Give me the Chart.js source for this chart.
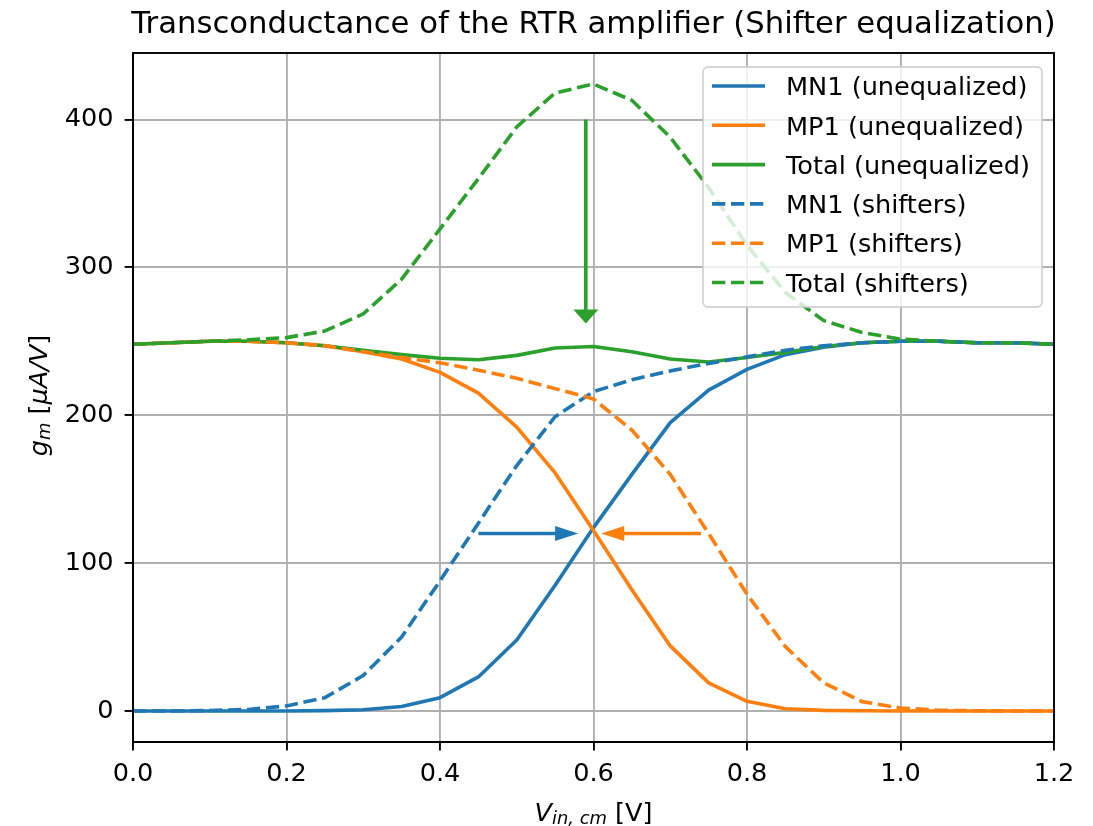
<!DOCTYPE html>
<html lang="en">
<head>
<meta charset="UTF-8">
<title>Transconductance of the RTR amplifier</title>
<script src="https://cdn.jsdelivr.net/npm/chart.js"></script>
<style>
  body { margin: 0; background: #fff; }
  #wrap { width: 1093px; height: 826px; }
</style>
</head>
<body>
<div id="wrap"><canvas id="gmChart" width="1093" height="826"></canvas></div>
<script>
// --- Data (gm in uA/V vs Vin,cm in V) ---
const vin = [0, 0.05, 0.1, 0.15, 0.2, 0.25, 0.3, 0.35, 0.4, 0.45, 0.5, 0.55, 0.6,
             0.65, 0.7, 0.75, 0.8, 0.85, 0.9, 0.95, 1.0, 1.05, 1.1, 1.15, 1.2];

const mn1Uneq  = [0, 0, 0, 0, 0, 0.2, 0.8, 3, 9, 23, 48, 85, 124, 160, 195, 217, 231, 241, 246, 249, 250, 250, 249, 249, 248];
const mp1Uneq  = [248, 249, 250, 250, 249, 247, 243, 238, 229, 215, 192, 161, 122, 82, 44, 19, 6.5, 1.5, 0.4, 0.1, 0, 0, 0, 0, 0];
const totUneq  = [248, 249, 250, 250, 249, 247, 244, 241, 238.5, 237.5, 240.5, 245.5, 246.5, 243, 238, 236, 239, 242.5, 246.5, 249, 250, 250, 249, 249, 248];
const mn1Shift = [0, 0, 0.3, 1, 3.4, 9, 24, 50, 88, 127, 166, 199, 216, 224, 230, 235, 239.5, 244, 247, 249, 250, 250, 249, 249, 248];
const mp1Shift = [248, 249, 250, 250, 249, 247, 243, 239, 235.5, 230.5, 225, 218, 211, 190, 160, 120, 79, 43.5, 19, 6.3, 2, 0.5, 0.1, 0, 0];
const totShift = [248, 249, 250, 251, 252.5, 257, 268.5, 292, 326, 360, 395, 418, 424, 413, 388, 354, 315, 283, 264, 256, 251.5, 250, 249, 249, 248];

const seriesLabels = ['MN1 (unequalized)', 'MP1 (unequalized)', 'Total (unequalized)',
                      'MN1 (shifters)', 'MP1 (shifters)', 'Total (shifters)'];
const seriesValues = [mn1Uneq, mp1Uneq, totUneq, mn1Shift, mp1Shift, totShift];

const xTicks = [0, 0.2, 0.4, 0.6, 0.8, 1.0, 1.2];
const yTicks = [0, 100, 200, 300, 400];

// annotation arrows, in data coordinates
const arrowFrom = [[0.45, 120], [0.74, 120], [0.59, 400]];
const arrowTo   = [[0.58, 120], [0.61, 120], [0.59, 262]];

// --- Styles ---
const C0 = '#1f77b4', C1 = '#ff7f0e', C2 = '#2ca02c';
const colors = [C0, C1, C2, C0, C1, C2];
const LW = 3.6;
const DASH = [13.3, 5.7];
const FONT = '"DejaVu Sans", sans-serif';
const FS = 25.6;      // tick / legend / axis label size
const arrowStyles = [
    { color: C0, headLen: 23, headHalf: 7.5 },
    { color: C1, headLen: 23, headHalf: 7.5 },
    { color: C2, headLen: 14, headHalf: 12.5 }
];

const datasets = seriesValues.map((vals, i) => ({
    label: seriesLabels[i],
    data: vin.map((x, k) => ({ x: x, y: vals[k] })),
    borderColor: colors[i],
    borderWidth: LW,
    borderDash: i >= 3 ? DASH : [],
    borderCapStyle: 'butt',
    borderJoinStyle: 'round',
    pointRadius: 0,
    tension: 0,
    fill: false,
    order: seriesValues.length - i   // later series drawn on top, like matplotlib
}));

function drawArrow(ctx, x1, y1, x2, y2, st) {
    const ang = Math.atan2(y2 - y1, x2 - x1);
    const bx = x2 - st.headLen * Math.cos(ang), by = y2 - st.headLen * Math.sin(ang);
    ctx.strokeStyle = st.color;
    ctx.fillStyle = st.color;
    ctx.lineWidth = LW;
    ctx.lineCap = 'butt';
    ctx.setLineDash([]);
    ctx.beginPath();
    ctx.moveTo(x1, y1);
    ctx.lineTo(bx + Math.cos(ang), by + Math.sin(ang));
    ctx.stroke();
    ctx.beginPath();
    ctx.moveTo(x2, y2);
    ctx.lineTo(bx + st.headHalf * Math.sin(ang), by - st.headHalf * Math.cos(ang));
    ctx.lineTo(bx - st.headHalf * Math.sin(ang), by + st.headHalf * Math.cos(ang));
    ctx.closePath();
    ctx.fill();
}

// draws text pieces [text, style] centred on (0, 0) baseline; style r = roman, i = italic, s = italic subscript
function drawMath(ctx, parts, size) {
    let w = 0;
    const items = parts.map(([t, s]) => {
        const fs = s === 's' ? size * 0.7 : size;
        const font = (s === 'r' ? '' : 'italic ') + fs + 'px ' + FONT;
        ctx.font = font;
        const it = { t: t, s: s, font: font, x: w };
        w += ctx.measureText(t).width;
        return it;
    });
    ctx.textAlign = 'left';
    ctx.textBaseline = 'alphabetic';
    items.forEach(it => {
        ctx.font = it.font;
        ctx.fillText(it.t, it.x - w / 2, it.s === 's' ? size * 0.12 : 0);
    });
}

const decorPlugin = {
    id: 'decor',
    afterDatasetsDraw(chart) {
        const ctx = chart.ctx, xs = chart.scales.x, ys = chart.scales.y, a = chart.chartArea;
        ctx.save();
        // arrows
        arrowFrom.forEach((p, i) => {
            const q = arrowTo[i];
            drawArrow(ctx, xs.getPixelForValue(p[0]), ys.getPixelForValue(p[1]),
                      xs.getPixelForValue(q[0]), ys.getPixelForValue(q[1]), arrowStyles[i]);
        });
        // axes frame
        ctx.strokeStyle = '#000';
        ctx.lineWidth = 1.9;
        ctx.strokeRect(a.left, a.top, a.right - a.left, a.bottom - a.top);

        // legend box (upper right)
        const bx = 703, by = 67, bw = 339, bh = 240;
        ctx.beginPath();
        ctx.roundRect(bx, by, bw, bh, 5);
        ctx.fillStyle = 'rgba(255,255,255,0.8)';
        ctx.fill();
        ctx.strokeStyle = 'rgba(204,204,204,0.8)';
        ctx.lineWidth = 1.9;
        ctx.stroke();
        ctx.font = FS + 'px ' + FONT;
        ctx.textAlign = 'left';
        ctx.textBaseline = 'alphabetic';
        seriesLabels.forEach((lab, i) => {
            const ry = 86 + i * 39.3;
            ctx.strokeStyle = colors[i];
            ctx.lineWidth = LW;
            ctx.lineCap = 'butt';
            ctx.setLineDash(i >= 3 ? DASH : []);
            ctx.beginPath();
            ctx.moveTo(712, ry);
            ctx.lineTo(765, ry);
            ctx.stroke();
            ctx.setLineDash([]);
            ctx.fillStyle = '#000';
            ctx.fillText(lab, 786, ry + 9.2);
        });
        ctx.restore();
    },
    afterDraw(chart) {
        const ctx = chart.ctx, a = chart.chartArea;
        const cx = (a.left + a.right) / 2, cy = (a.top + a.bottom) / 2;
        ctx.save();
        ctx.fillStyle = '#000';
        ctx.font = '30.7px ' + FONT;
        ctx.textAlign = 'center';
        ctx.textBaseline = 'alphabetic';
        ctx.fillText('Transconductance of the RTR amplifier (Shifter equalization)', cx, 33);

        ctx.save();
        ctx.translate(cx, 820.5);
        drawMath(ctx, [['V', 'i'], ['in, cm', 's'], [' [V]', 'r']], FS);
        ctx.restore();

        ctx.save();
        ctx.translate(46.7, cy - 2);
        ctx.rotate(-Math.PI / 2);
        drawMath(ctx, [['g', 'i'], ['m', 's'], [' [', 'r'], ['\u03bcA/V', 'i'], [']', 'r']], FS);
        ctx.restore();
        ctx.restore();
    }
};

const gridOpts = {
    color: '#b0b0b0',
    lineWidth: 1.9,
    tickLength: 8.4,
    tickColor: '#000',
    tickWidth: 1.9
};

new Chart(document.getElementById('gmChart'), {
    type: 'line',
    data: { datasets: datasets },
    options: {
        responsive: false,
        animation: false,
        devicePixelRatio: 1,
        layout: { padding: { left: 0, right: 39, top: 53, bottom: 0 } },
        plugins: { legend: { display: false }, title: { display: false }, tooltip: { enabled: false } },
        scales: {
            x: {
                type: 'linear',
                min: 0,
                max: 1.2,
                afterBuildTicks: (s) => { s.ticks = xTicks.map(v => ({ value: v })); },
                afterFit: (s) => { s.height = 84; },
                ticks: {
                    color: '#000',
                    font: { family: FONT, size: FS },
                    padding: 9,
                    maxRotation: 0,
                    autoSkip: false,
                    callback: (v) => Number(v).toFixed(1)
                },
                grid: gridOpts,
                border: { display: true, color: '#000', width: 1.9 }
            },
            y: {
                type: 'linear',
                min: -21,
                max: 445,
                afterBuildTicks: (s) => { s.ticks = yTicks.map(v => ({ value: v })); },
                afterFit: (s) => { s.width = 133; },
                ticks: {
                    color: '#000',
                    font: { family: FONT, size: FS },
                    padding: 11,
                    autoSkip: false,
                    callback: (v) => String(v)
                },
                grid: gridOpts,
                border: { display: true, color: '#000', width: 1.9 }
            }
        }
    },
    plugins: [decorPlugin]
});
</script>
</body>
</html>
